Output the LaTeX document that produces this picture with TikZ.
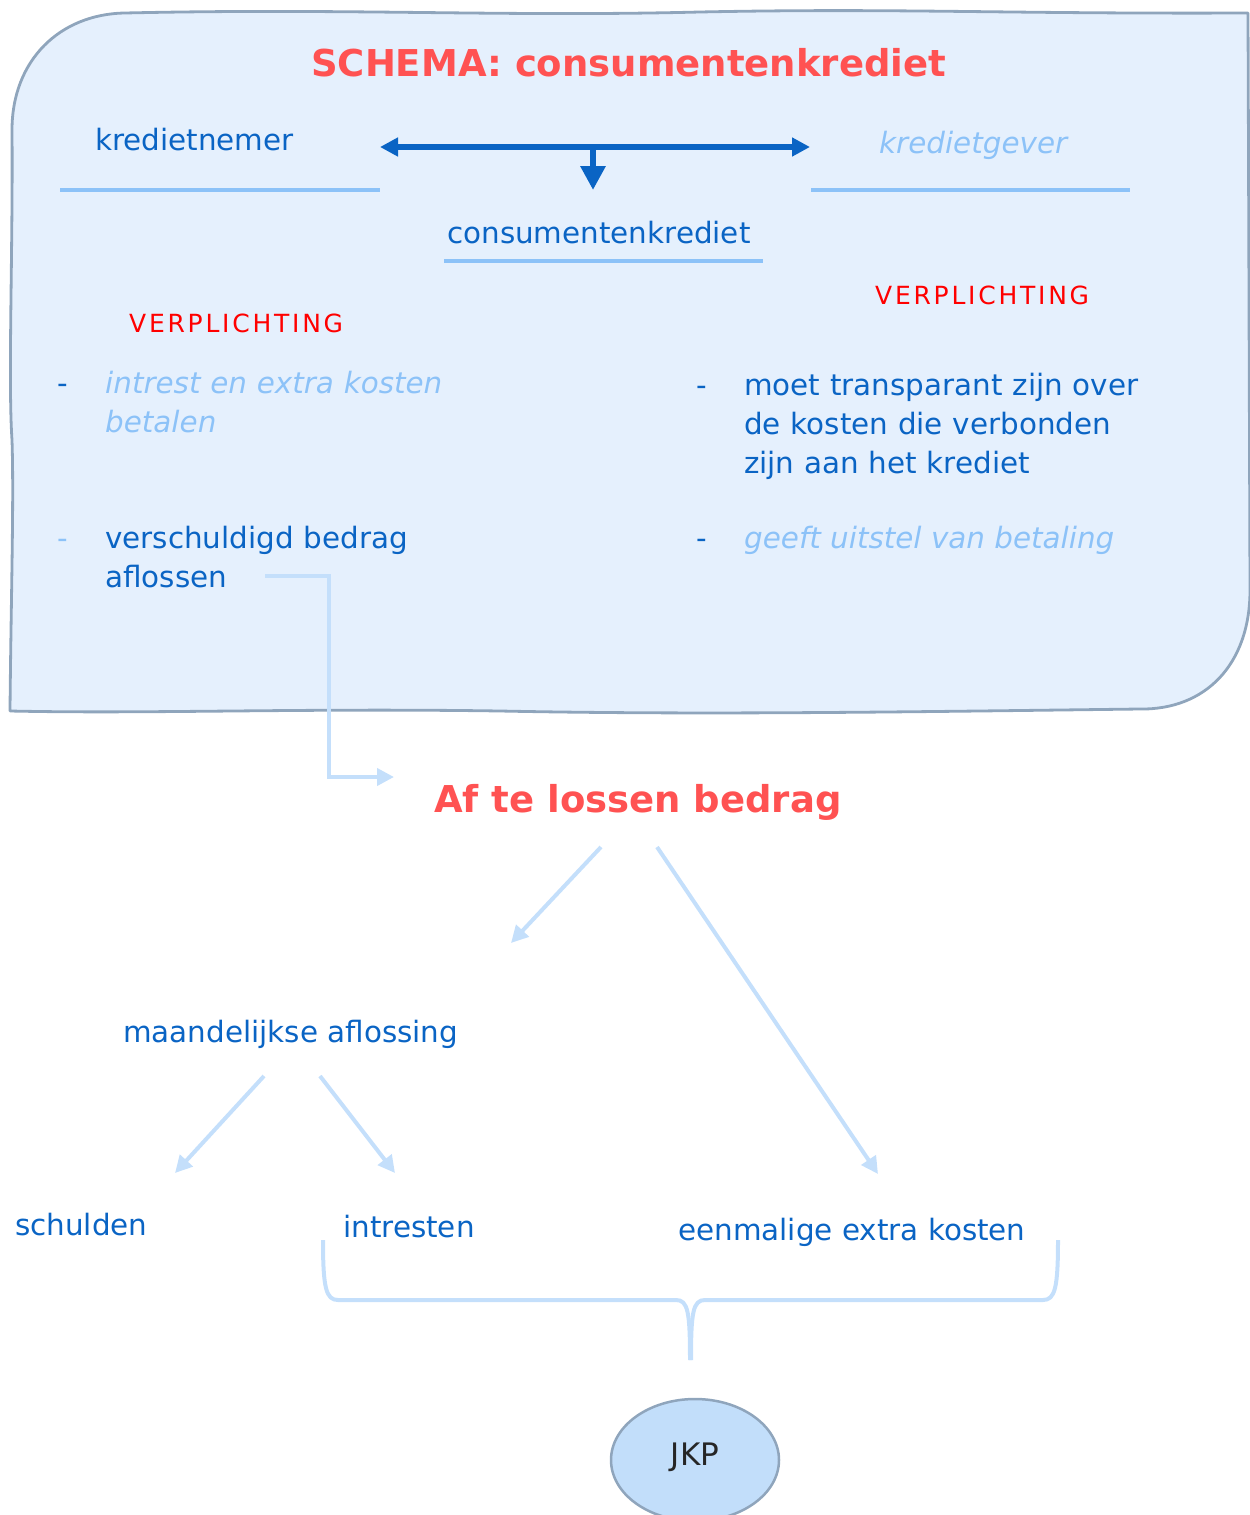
\documentclass[tikz,border=0pt]{standalone}
\usepackage{fontspec}
\setmainfont{DejaVu Sans}
\newfontfamily\spacedfont[LetterSpace=11]{DejaVu Sans}
\usetikzlibrary{arrows.meta,shapes.geometric}
\definecolor{titlered}{HTML}{FF5252}
\definecolor{vred}{HTML}{FF0000}
\definecolor{dblue}{HTML}{0A64C4}
\definecolor{lblue}{HTML}{8CC2F8}
\definecolor{boxfill}{HTML}{E5F0FD}
\definecolor{boxline}{HTML}{8FA5BC}
\definecolor{conn}{HTML}{C4DFFB}
\definecolor{jkpfill}{HTML}{C2DEFA}
\begin{document}
\begin{tikzpicture}[x=1pt,y=-1pt,
  txt/.style={inner sep=0pt, anchor=base west, font=\fontsize{29.4}{39}\selectfont, text=dblue},
  ltxt/.style={txt, text=lblue, font=\fontsize{29.4}{39}\selectfont\itshape},
  bigred/.style={inner sep=0pt, anchor=base west, text=titlered, font=\fontsize{37}{44}\selectfont\bfseries},
  verpl/.style={inner sep=0pt, anchor=base west, text=vred, font=\spacedfont\fontsize{25}{30}\selectfont},
  uline/.style={draw=lblue, line width=4pt},
  conn/.style={draw=conn, line width=4pt, -{Triangle[length=17pt,width=17pt]}},
  bracestyle/.style={draw=conn, line width=4pt},
  darrow/.style={draw=dblue, line width=6pt}
]
\useasboundingbox (0,0) rectangle (1250,1515);

% sketchy box
\draw[draw=boxline, line width=2.8pt, fill=boxfill, line join=round]
  (10,711)
  .. controls (11,600) and (14,500) .. (12,440)
  .. controls (8,380) and (13,250) .. (12,130)
  .. controls (12,60) and (60,14) .. (125,13)
  .. controls (350,8) and (500,17) .. (700,12)
  .. controls (900,8) and (1000,14) .. (1248,13)
  -- (1250,590)
  .. controls (1250,665) and (1205,710) .. (1140,709)
  .. controls (900,712) and (700,715) .. (500,711)
  .. controls (300,708) and (150,714) .. (10,711) -- cycle;

% title
\node[bigred] (title) at (311,76) {SCHEMA: consumentenkrediet};

% parties
\node[txt] (nemer) at (95,150) {kredietnemer};
\node[ltxt] (gever) at (879,153) {kredietgever};
\node[txt] (ck) at (447,243) {consumentenkrediet};
\draw[uline] (60,190) -- (380,190);
\draw[uline] (811,190) -- (1130,190);
\draw[uline] (444,261) -- (763,261);

\coordinate (aL) at (380,147);
\coordinate (aR) at (810,147);
\coordinate (aM) at (593,147);
\coordinate (aD) at (593,190);
\draw[darrow, {Triangle[length=18pt,width=18pt]}-{Triangle[length=18pt,width=18pt]}] (aL) -- (aR);
\draw[darrow, -{Triangle[length=24pt,width=24pt]}] (aM) -- (aD);

% obligations
\node[verpl] (vl) at (129,332) {VERPLICHTING};
\node[verpl] (vr) at (875,304) {VERPLICHTING};

\node[txt] (d1) at (57,393) {-};
\node[ltxt, text width=400pt, align=left] (b1) at (105,393) {intrest en extra kosten\\betalen};
\node[txt, text=lblue] (d2) at (57,548) {-};
\node[txt, text width=400pt, align=left] (b2) at (105,548) {verschuldigd bedrag\\aflossen};

\node[txt] (d3) at (696,395) {-};
\node[txt, text width=480pt, align=left] (b3) at (744,395) {moet transparant zijn over\\de kosten die verbonden\\zijn aan het krediet};
\node[txt] (d4) at (696,548) {-};
\node[ltxt] (b4) at (744,548) {geeft uitstel van betaling};

% lower part
\node[bigred] (af) at (434,812) {Af te lossen bedrag};
\node[txt] (maand) at (123,1042) {maandelijkse aflossing};
\node[txt] (schuld) at (15,1235) {schulden};
\node[txt] (intr) at (343,1237) {intresten};
\node[txt] (eenm) at (678,1240) {eenmalige extra kosten};

\coordinate (c1) at (265,576);
\coordinate (c2) at (394,777);
\draw[conn] (c1) -- (329,576) -- (329,777) -- (c2);

\coordinate (af1) at (601,847);
\coordinate (af1e) at (511,943);
\coordinate (af2) at (657,847);
\coordinate (af2e) at (878,1174);
\draw[conn] (af1) -- (af1e);
\draw[conn] (af2) -- (af2e);

\coordinate (m1) at (264,1076);
\coordinate (m1e) at (175,1173);
\coordinate (m2) at (320,1076);
\coordinate (m2e) at (395,1173);
\draw[conn] (m1) -- (m1e);
\draw[conn] (m2) -- (m2e);

% brace
\draw[bracestyle] (323,1240) .. controls (323,1288) and (326,1300) .. (338,1300)
  -- (676,1300) .. controls (688,1300) and (690,1312) .. (690,1360);
\draw[bracestyle] (1058,1240) .. controls (1058,1288) and (1055,1300) .. (1043,1300)
  -- (705,1300) .. controls (693,1300) and (691,1312) .. (691,1360);

% JKP
\node[ellipse, draw=boxline, line width=2.5pt, fill=jkpfill, minimum width=168pt, minimum height=122pt,
  inner sep=0pt, text=black!85, font=\fontsize{31}{34}\selectfont, text height=23pt, text depth=13pt] (jkp) at (695,1460) {JKP};
\end{tikzpicture}
\end{document}
